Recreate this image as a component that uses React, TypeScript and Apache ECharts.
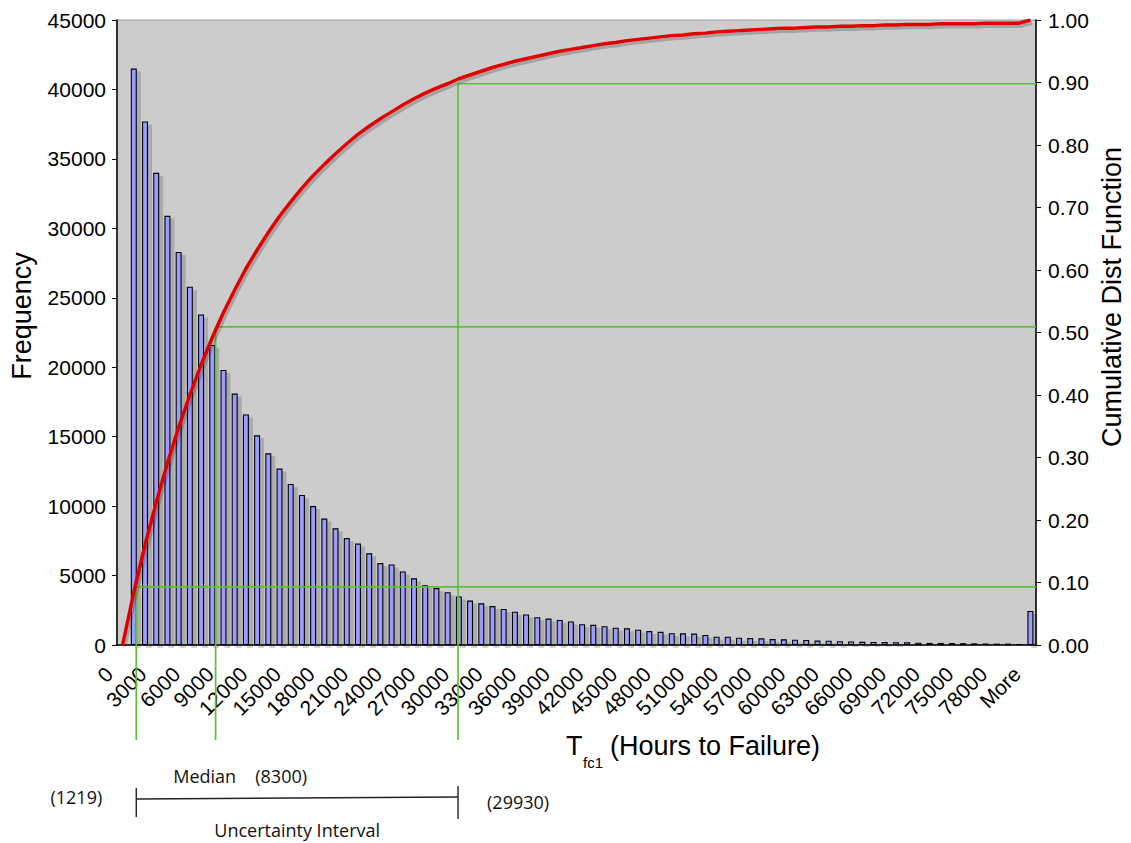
import React, { useEffect, useRef } from "react";
import * as echarts from "echarts";

// ---------- data ----------
const categories = [
  "0", "1000", "2000", "3000", "4000", "5000", "6000", "7000", "8000", "9000",
  "10000", "11000", "12000", "13000", "14000", "15000", "16000", "17000", "18000", "19000",
  "20000", "21000", "22000", "23000", "24000", "25000", "26000", "27000", "28000", "29000",
  "30000", "31000", "32000", "33000", "34000", "35000", "36000", "37000", "38000", "39000",
  "40000", "41000", "42000", "43000", "44000", "45000", "46000", "47000", "48000", "49000",
  "50000", "51000", "52000", "53000", "54000", "55000", "56000", "57000", "58000", "59000",
  "60000", "61000", "62000", "63000", "64000", "65000", "66000", "67000", "68000", "69000",
  "70000", "71000", "72000", "73000", "74000", "75000", "76000", "77000", "78000", "79000",
  "80000", "More",
];

const frequency = [
  0, 41500, 37700, 34000, 30900, 28300, 25800, 23800, 21600, 19800,
  18100, 16600, 15100, 13800, 12700, 11600, 10800, 10000, 9100, 8400,
  7700, 7300, 6600, 5900, 5800, 5300, 4800, 4300, 4100, 3800,
  3500, 3200, 3000, 2800, 2600, 2400, 2200, 2000, 1900, 1800,
  1700, 1500, 1450, 1350, 1250, 1200, 1100, 1000, 950, 850,
  840, 820, 720, 600, 600, 530, 500, 480, 430, 410,
  380, 360, 320, 310, 270, 260, 230, 220, 210, 200,
  190, 170, 150, 150, 140, 130, 120, 110, 100, 100,
  90, 2450,
];

const cumulative = [
  0, 0.084, 0.16, 0.228, 0.291, 0.348, 0.4, 0.448, 0.492, 0.532,
  0.568, 0.602, 0.632, 0.66, 0.686, 0.709, 0.731, 0.751, 0.769, 0.786,
  0.802, 0.817, 0.83, 0.842, 0.853, 0.864, 0.874, 0.883, 0.891, 0.898,
  0.906, 0.912, 0.918, 0.924, 0.929, 0.934, 0.938, 0.942, 0.946, 0.95,
  0.953, 0.956, 0.959, 0.962, 0.964, 0.967, 0.969, 0.971, 0.973, 0.975,
  0.976, 0.978, 0.979, 0.981, 0.982, 0.983, 0.984, 0.985, 0.986, 0.987,
  0.987, 0.988, 0.989, 0.989, 0.99, 0.99, 0.991, 0.991, 0.992, 0.992,
  0.993, 0.993, 0.993, 0.994, 0.994, 0.994, 0.994, 0.995, 0.995, 0.995,
  0.995, 1.0,
];

// percentile markers (hours) and the CDF levels where their guide lines are drawn
const markerHours = [1219, 8300, 29930];
const markerLevels = [0.093, 0.509, 0.898];
const markerLabels = ["(1219)", "(8300)", "(29930)"];
const binWidthHours = 1000;

const freqAxis = { min: 0, max: 45000, interval: 5000 };
const cdfAxis = { min: 0, max: 1, interval: 0.1 };

// ---------- layout ----------
const W = 1131;
const H = 843;
const GRID = { left: 117, right: 95, top: 20, bottom: 198 };
const TICK_FONT = "Liberation Sans";
const NOTE_FONT = "Open Sans";
const GREEN = "#5ec03a";

export default function App() {
  const ref = useRef<HTMLDivElement>(null);

  useEffect(() => {
    if (!ref.current) return;
    const chart = echarts.init(ref.current, null, { renderer: "svg" });

    const tickLabel = { fontSize: 21, fontFamily: TICK_FONT, color: "#000" };

    const option: any = {
      animation: false,
      backgroundColor: "#ffffff",
      grid: {
        ...GRID,
        show: true,
        backgroundColor: "#cccccc",
        borderColor: "#9a9a9a",
        borderWidth: 1,
      },
      xAxis: {
        type: "category",
        data: categories,
        boundaryGap: true,
        axisLine: { lineStyle: { color: "#000", width: 1.5 } },
        axisTick: { interval: 0, length: 5, lineStyle: { color: "#000", width: 1 } },
        axisLabel: {
          ...tickLabel,
          interval: 2,
          rotate: 45,
          margin: 12,
          formatter: (v: string) => `{t|${v}}`,
          rich: { t: { ...tickLabel, padding: [0, 19, 0, 0] } },
        },
        splitLine: { show: false },
      },
      yAxis: [
        {
          type: "value",
          ...freqAxis,
          axisLine: { show: true, lineStyle: { color: "#000", width: 1.5 } },
          axisTick: { show: true, length: 5, lineStyle: { color: "#000" } },
          axisLabel: { ...tickLabel, margin: 11, formatter: (v: number) => String(v) },
          splitLine: { show: false },
        },
        {
          type: "value",
          position: "right",
          ...cdfAxis,
          axisLine: { show: true, lineStyle: { color: "#000", width: 1.5 } },
          axisTick: { show: true, length: 5, lineStyle: { color: "#000" } },
          axisLabel: { ...tickLabel, margin: 12, formatter: (v: number) => v.toFixed(2) },
          splitLine: { show: false },
        },
      ],
      series: [
        {
          name: "Frequency",
          type: "bar",
          data: frequency,
          barWidth: 6,
          z: 2,
          itemStyle: {
            color: "#9c9cff",
            borderColor: "#000",
            borderWidth: 1.1,
            shadowColor: "rgba(0,0,0,0.17)",
            shadowOffsetX: 4,
            shadowOffsetY: 3,
            shadowBlur: 0,
          },
        },
        {
          name: "Cumulative Dist Function",
          type: "line",
          yAxisIndex: 1,
          data: cumulative,
          symbol: "none",
          z: 5,
          lineStyle: {
            color: "#e00000",
            width: 3.5,
            shadowColor: "rgba(0,0,0,0.2)",
            shadowOffsetX: 2,
            shadowOffsetY: 3,
            shadowBlur: 0,
          },
        },
      ],
    };

    chart.setOption(option);

    const x0 = chart.convertToPixel({ xAxisIndex: 0 }, categories[0]) as number;
    const x1 = chart.convertToPixel({ xAxisIndex: 0 }, categories[1]) as number;
    const step = x1 - x0;
    const hoursToX = (h: number) => x0 + (h / binWidthHours) * step;
    const plotRight = chart.getWidth() - GRID.right;
    const guideBottom = 740;

    const elements: any[] = [];
    markerHours.forEach((h, i) => {
      const x = hoursToX(h);
      const y = chart.convertToPixel({ yAxisIndex: 1 }, markerLevels[i]) as number;
      elements.push({
        type: "line",
        z: 4,
        shape: { x1: x, y1: y, x2: x, y2: guideBottom },
        style: { stroke: GREEN, lineWidth: 1.7 },
      });
      elements.push({
        type: "line",
        z: 4,
        shape: { x1: x, y1: y, x2: plotRight, y2: y },
        style: { stroke: GREEN, lineWidth: 1.7 },
      });
    });

    const xLow = hoursToX(markerHours[0]);
    const xHigh = hoursToX(markerHours[2]);
    const bracketY = 798;
    elements.push(
      {
        type: "line",
        shape: { x1: xLow, y1: bracketY + 1, x2: xHigh, y2: bracketY - 1 },
        style: { stroke: "#222", lineWidth: 1.4 },
      },
      {
        type: "line",
        shape: { x1: xLow, y1: bracketY - 10, x2: xLow, y2: bracketY + 19 },
        style: { stroke: "#222", lineWidth: 1.4 },
      },
      {
        type: "line",
        shape: { x1: xHigh, y1: bracketY - 12, x2: xHigh, y2: bracketY + 21 },
        style: { stroke: "#222", lineWidth: 1.4 },
      }
    );

    const note = (text: string, x: number, y: number, align: string = "left") => ({
      type: "text",
      x,
      y,
      style: {
        text,
        fill: "#111",
        font: `18px "${NOTE_FONT}"`,
        align,
        verticalAlign: "middle",
      },
    });
    elements.push(note("Median", xLow + 37, 776));
    elements.push(note(markerLabels[1], xLow + 119, 776));
    elements.push(note(markerLabels[0], xLow - 34, 797, "right"));
    elements.push(note(markerLabels[2], xHigh + 29, 802));
    elements.push(note("Uncertainty Interval", xLow + 78, 830));

    // axis titles
    const titleFont = `27px "${TICK_FONT}"`;
    elements.push({
      type: "text",
      x: 22,
      y: 316,
      rotation: Math.PI / 2,
      style: { text: "Frequency", fill: "#000", font: titleFont, align: "center", verticalAlign: "middle" },
    });
    elements.push({
      type: "text",
      x: 1112,
      y: 297,
      rotation: Math.PI / 2,
      style: {
        text: "Cumulative Dist Function",
        fill: "#000",
        font: titleFont,
        align: "center",
        verticalAlign: "middle",
      },
    });
    elements.push({
      type: "text",
      x: 566,
      y: 746,
      style: { text: "T", fill: "#000", font: titleFont, align: "left", verticalAlign: "middle" },
    });
    elements.push({
      type: "text",
      x: 583,
      y: 762,
      style: { text: "fc1", fill: "#000", font: `15px "${TICK_FONT}"`, align: "left", verticalAlign: "middle" },
    });
    elements.push({
      type: "text",
      x: 610,
      y: 746,
      style: {
        text: "(Hours to Failure)",
        fill: "#000",
        font: titleFont,
        align: "left",
        verticalAlign: "middle",
      },
    });

    chart.setOption({ graphic: elements });

    return () => chart.dispose();
  }, []);

  return (
    <div
      ref={ref}
      style={{ position: "fixed", left: 0, top: 0, width: W, height: H, background: "#fff" }}
    />
  );
}
